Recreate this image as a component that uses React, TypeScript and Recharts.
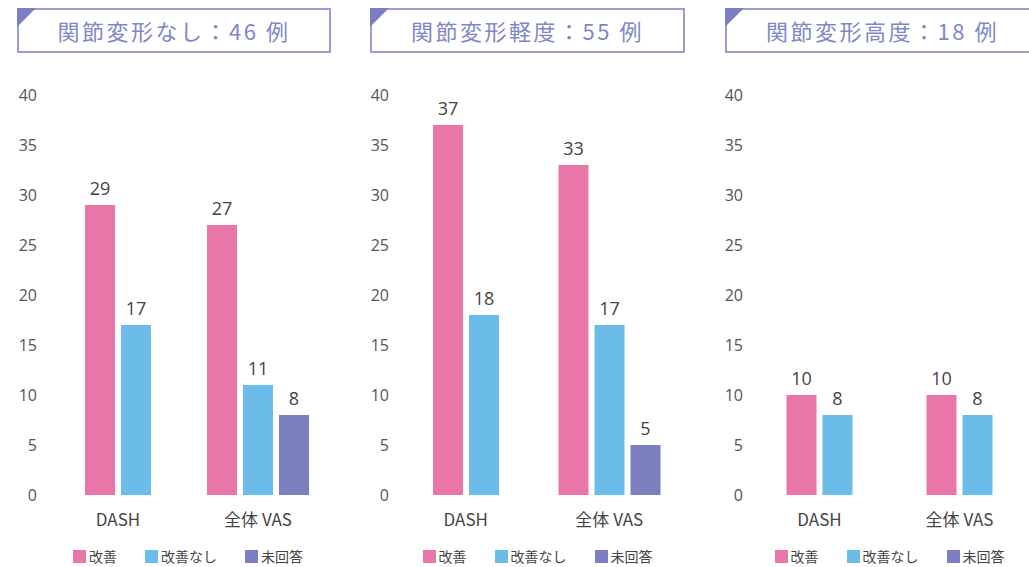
import React from "react";
import { BarChart, Bar, XAxis, YAxis, Legend } from "recharts";

// categories, series and ticks
const categories = ["DASH", "全体 VAS"];
const seriesNames = ["改善", "改善なし", "未回答"];
const yTicks = [0, 5, 10, 15, 20, 25, 30, 35, 40];
const titles = ["関節変形なし：46 例", "関節変形軽度：55 例", "関節変形高度：18 例"];

// 関節変形なし
const noneImproved = [29, 27];
const noneNotImproved = [17, 11];
const noneNoAnswer = [null, 8];

// 関節変形軽度
const mildImproved = [37, 33];
const mildNotImproved = [18, 17];
const mildNoAnswer = [null, 5];

// 関節変形高度
const severeImproved = [10, 10];
const severeNotImproved = [8, 8];
const severeNoAnswer = [null, null];

const COLORS = ["#E976A9", "#6BBCE8", "#7B7FC0"];
const TITLE_COLOR = "#8186C8";
const FONT = "'Noto Sans CJK JP', 'Noto Sans', sans-serif";
const NUM_FONT = "'Open Sans', 'Noto Sans CJK JP', sans-serif";
const KEYS = ["improved", "notImproved", "noAnswer"];
const BAR_SIZE = 30;
const BAR_GAP = 6;

const buildRows = (a: (number | null)[], b: (number | null)[], c: (number | null)[]) =>
  categories.map((name, i) => ({ name, improved: a[i], notImproved: b[i], noAnswer: c[i] }));

const panels = [
  { rows: buildRows(noneImproved, noneNotImproved, noneNoAnswer), boxLeft: 17, boxWidth: 314, tickRight: 37, plotLeft: 48, band: 140 },
  { rows: buildRows(mildImproved, mildNotImproved, mildNoAnswer), boxLeft: 370, boxWidth: 315, tickRight: 389, plotLeft: 394, band: 143.5 },
  { rows: buildRows(severeImproved, severeNotImproved, severeNoAnswer), boxLeft: 725, boxWidth: 315, tickRight: 743, plotLeft: 749.5, band: 140 },
];

// bars in a category are centred on the ones that actually exist
const centeredBar = (dataKey: string) => (props: any) => {
  const { x, y, width, height, fill, payload } = props;
  const v = payload?.[dataKey];
  if (v == null) return <g />;
  const count = KEYS.filter((k) => payload[k] != null).length;
  const shift = ((KEYS.length - count) * (width + BAR_GAP)) / 2;
  const bx = x + shift;
  return (
    <g>
      <rect x={bx} y={y} width={width} height={height} fill={fill} />
      <text x={bx + width / 2} y={y - 10} textAnchor="middle" fontSize={18} fill="#444" fontFamily={NUM_FONT}>
        {v}
      </text>
    </g>
  );
};

const LegendContent = () => (
  <div style={{ display: "flex", justifyContent: "center", alignItems: "center", gap: 28, height: 22, fontSize: 14, color: "#444", fontFamily: FONT }}>
    {seriesNames.map((n, i) => (
      <span key={n} style={{ display: "flex", alignItems: "center" }}>
        <span style={{ display: "inline-block", width: 13, height: 13, background: COLORS[i], marginRight: 3 }} />
        {n}
      </span>
    ))}
  </div>
);

const TitleBox: React.FC<{ text: string; left: number; width: number }> = ({ text, left, width }) => (
  <div
    style={{
      position: "absolute",
      left,
      top: 8,
      width: width - 4,
      height: 41,
      border: `2px solid #9A9ED6`,
      color: TITLE_COLOR,
      fontSize: 22,
      letterSpacing: 2.5,
      lineHeight: "41px",
      textAlign: "center",
      fontFamily: FONT,
    }}
  >
    <svg width={19} height={19} style={{ position: "absolute", left: -2, top: -2 }}>
      <polygon points="0,0 19,0 0,19" fill="#7B7FC0" />
    </svg>
    {text}
  </div>
);

const App: React.FC = () => {
  return (
    <div style={{ position: "absolute", left: 0, top: 0, width: 1029, height: 567, overflow: "hidden", background: "#fff", fontFamily: FONT }}>
      {panels.map((p, idx) => {
        const chartLeft = p.tickRight - 30;
        const yWidth = p.plotLeft - chartLeft;
        const width = yWidth + p.band * categories.length;
        return (
          <React.Fragment key={idx}>
            <TitleBox text={titles[idx]} left={p.boxLeft} width={p.boxWidth} />
            <div style={{ position: "absolute", left: chartLeft, top: 80 }}>
              <BarChart
                width={width}
                height={487}
                data={p.rows}
                margin={{ top: 15, right: 0, bottom: 0, left: 0 }}
                barSize={BAR_SIZE}
                barGap={BAR_GAP}
              >
                <XAxis
                  dataKey="name"
                  axisLine={false}
                  tickLine={false}
                  tickSize={0}
                  tickMargin={19}
                  height={50}
                  interval={0}
                  tick={{ fontSize: 17, fill: "#444", fontFamily: FONT }}
                />
                <YAxis
                  domain={[0, 40]}
                  ticks={yTicks}
                  axisLine={false}
                  tickLine={false}
                  tickSize={0}
                  tickMargin={p.plotLeft - p.tickRight}
                  width={yWidth}
                  interval={0}
                  tick={{ fontSize: 16, fill: "#555", fontFamily: NUM_FONT }}
                />
                <Legend
                  verticalAlign="bottom"
                  height={22}
                  content={() => <LegendContent />}
                  wrapperStyle={{ left: yWidth, width: p.band * categories.length, height: 22 }}
                />
                {KEYS.map((k, i) => (
                  <Bar key={k} dataKey={k} name={seriesNames[i]} fill={COLORS[i]} isAnimationActive={false} shape={centeredBar(k)} />
                ))}
              </BarChart>
            </div>
          </React.Fragment>
        );
      })}
    </div>
  );
};

export default App;
